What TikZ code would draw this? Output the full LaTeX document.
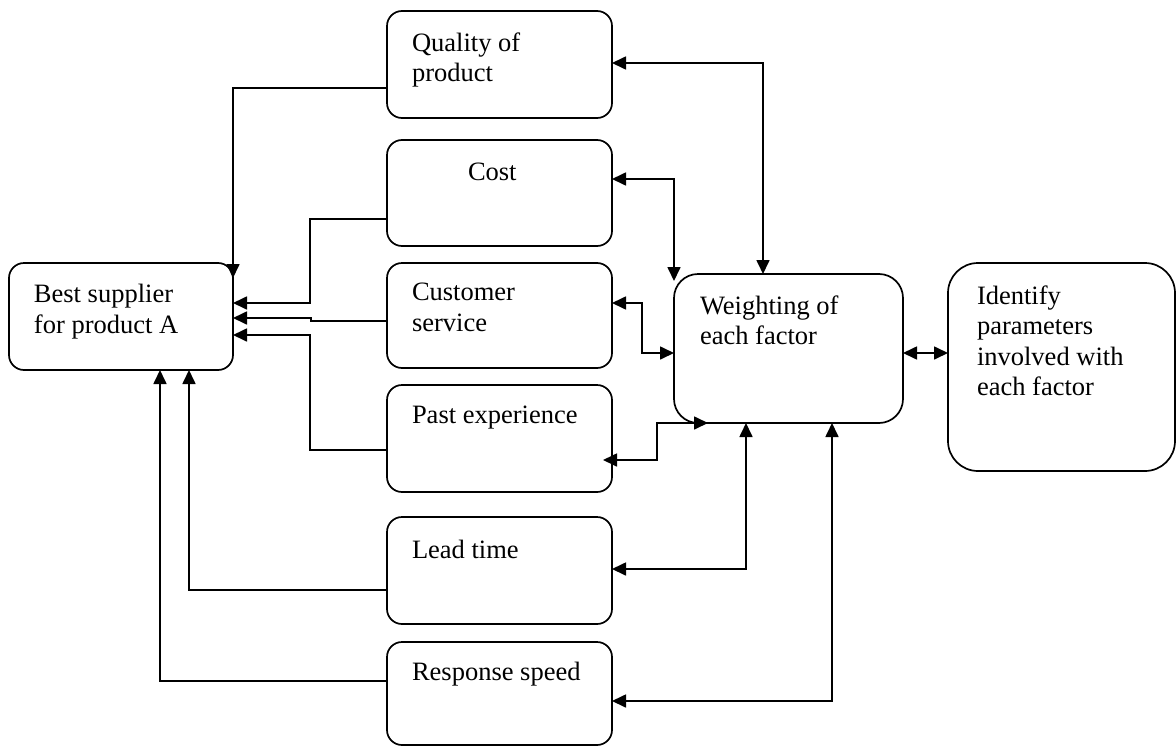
\documentclass[tikz,border=0pt]{standalone}
\usepackage{fontspec}
\setmainfont{Liberation Serif}
\usetikzlibrary{arrows.meta}
\tikzset{
  box/.style={draw, line width=1.7pt, rounded corners=15pt, inner sep=0pt, outer sep=0pt},
  txt/.style={inner sep=0pt, outer sep=0pt, anchor=base west, align=left, font=\fontsize{26.5}{30.5}\selectfont},
  arr/.style={line width=1.7pt, -{Triangle[length=14pt,width=13pt]}},
  darr/.style={line width=1.7pt, {Triangle[length=14pt,width=13pt]}-{Triangle[length=14pt,width=13pt]}},
}
\begin{document}
\begin{tikzpicture}[x=1pt,y=-1pt]
\useasboundingbox (0,0) rectangle (1176,747);
% boxes
\node[box, minimum width=224pt, minimum height=107pt] (best) at (121,316.5) {};
\node[box, minimum width=225pt, minimum height=107pt] (quality) at (499.5,64.5) {};
\node[box, minimum width=225pt, minimum height=106pt] (cost) at (499.5,193) {};
\node[box, minimum width=225pt, minimum height=105pt] (cs) at (499.5,315.5) {};
\node[box, minimum width=225pt, minimum height=107pt] (past) at (499.5,438.5) {};
\node[box, minimum width=225pt, minimum height=107pt] (lead) at (499.5,570.5) {};
\node[box, minimum width=225pt, minimum height=103pt] (resp) at (499.5,693.5) {};
\node[box, rounded corners=24pt, minimum width=229pt, minimum height=149pt] (weight) at (788.5,348.5) {};
\node[box, rounded corners=30pt, minimum width=227pt, minimum height=208pt] (ident) at (1061.5,367) {};
% texts (anchor = baseline of the last line)
\node[txt] (tbest) at (34,333) {Best supplier\\for product A};
\node[txt] (tquality) at (412,81.5) {Quality of\\product};
\node[txt] (tcost) at (468,180) {Cost};
\node[txt] (tcs) at (412,331) {Customer\\service};
\node[txt] (tpast) at (412,423) {Past experience};
\node[txt] (tlead) at (412,558) {Lead time};
\node[txt] (tresp) at (412,680) {Response speed};
\node[txt] (tweight) at (700,344.5) {Weighting of\\each factor};
\node[txt] (tident) at (977,395.5) {Identify\\parameters\\involved with\\each factor};
% connectors into best supplier
\draw[arr] (quality.west |- 0,88) -| (best.east |- 0,278);
\draw[arr] (cost.west |- 0,219) -| (310,303) -- (best.east |- 0,303);
\draw[arr] (cs.west |- 0,321) -- (311,321) -- (311,318) -- (best.east |- 0,318);
\draw[arr] (past.west |- 0,450) -| (310,335) -- (best.east |- 0,335);
\draw[arr] (lead.west |- 0,590) -| (189,0 |- best.south);
\draw[arr] (resp.west |- 0,681) -| (160,0 |- best.south);
% connectors with weighting
\draw[darr] (quality.east |- 0,63) -| (763,0 |- weight.north);
\draw[darr] (cost.east |- 0,179) -| (weight.west |- 0,281);
\draw[darr] (cs.east |- 0,303) -| (642,353) -- (weight.west |- 0,353);
\draw[darr] ([xshift=-9pt,yshift=32pt]past.south east) -| (657,0 |- weight.south) -- (708,0 |- weight.south);
\draw[darr] (lead.east |- 0,569) -| (746,0 |- weight.south);
\draw[darr] (resp.east |- 0,701) -| (832,0 |- weight.south);
\draw[darr] (weight.east |- 0,353) -- (ident.west |- 0,353);
\end{tikzpicture}
\end{document}
